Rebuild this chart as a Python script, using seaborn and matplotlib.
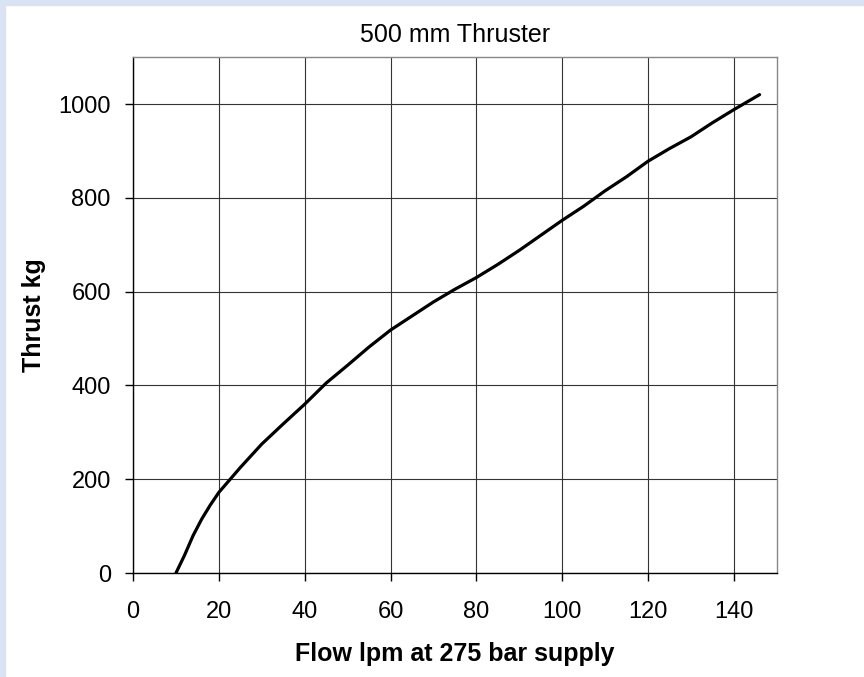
import numpy as np
import pandas as pd
import seaborn as sns
import matplotlib.pyplot as plt
from matplotlib.patches import Rectangle

# flow (lpm) vs thrust (kg)
flow = [10, 12, 14, 16, 18, 20, 25, 30, 35, 40, 45, 50, 55, 60, 65, 70, 75,
        80, 85, 90, 95, 100, 105, 110, 115, 120, 125, 130, 135, 140, 146]
thrust = [0, 38, 80, 115, 145, 172, 225, 275, 318, 360, 405, 443, 482, 518, 548,
          578, 605, 630, 658, 688, 720, 752, 782, 815, 845, 878, 905, 930,
          960, 988, 1020]
x_ticks = [0, 20, 40, 60, 80, 100, 120, 140]
y_ticks = [0, 200, 400, 600, 800, 1000]

sns.set_style("white")
plt.rcParams['font.family'] = ['Liberation Sans', 'DejaVu Sans']
plt.rcParams['text.color'] = 'black'
plt.rcParams['axes.labelcolor'] = 'black'
plt.rcParams['xtick.color'] = 'black'
plt.rcParams['ytick.color'] = 'black'

df = pd.DataFrame({'flow': flow, 'thrust': thrust})

fig = plt.figure(figsize=(8.64, 6.77), dpi=100)
fig.patches.append(Rectangle((0, 0), 5 / 864, 1, transform=fig.transFigure,
                             color='#dae3f3', zorder=-1))
fig.patches.append(Rectangle((0, 1 - 5 / 677), 1, 5 / 677, transform=fig.transFigure,
                             color='#dae3f3', zorder=-1))
ax = fig.add_axes([0.154, 0.1536, 0.745, 0.762])

sns.lineplot(data=df, x='flow', y='thrust', color='black', linewidth=2.3, ax=ax)

ax.set_xlim(0, 150)
ax.set_ylim(0, 1100)
ax.set_xticks(x_ticks)
ax.set_yticks(y_ticks)
ax.grid(True, color='#333333', linewidth=0.8)
ax.set_axisbelow(True)

for s in ['left', 'bottom']:
    ax.spines[s].set_color('black')
    ax.spines[s].set_linewidth(1.0)
for s in ['top', 'right']:
    ax.spines[s].set_color('#888888')
    ax.spines[s].set_linewidth(1.0)

ax.tick_params(axis='both', direction='out', length=6, width=1, color='black',
               labelsize=17, left=True, bottom=True)
ax.tick_params(axis='x', pad=14)
ax.tick_params(axis='y', pad=10)

ax.set_title('500 mm Thruster', fontsize=18, pad=11)
ax.set_xlabel('Flow lpm at 275 bar supply', fontsize=18, fontweight='bold', labelpad=14)
ax.set_ylabel('Thrust kg', fontsize=18, fontweight='bold', labelpad=9)

fig.savefig('out.png', dpi=100)
